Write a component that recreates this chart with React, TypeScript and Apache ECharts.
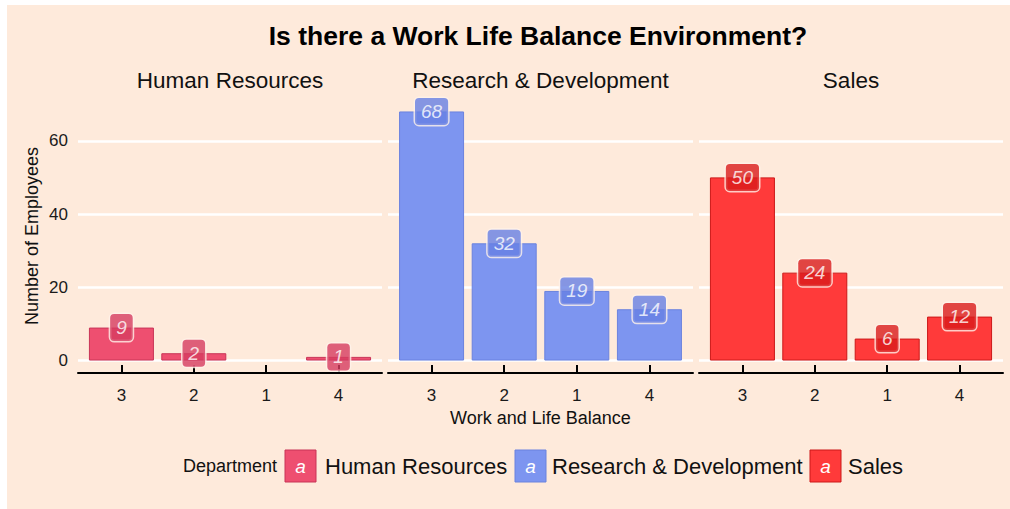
import React, { useEffect, useRef } from "react";
import * as echarts from "echarts";

const chartTitle = "Is there a Work Life Balance Environment?";
const departments = ["Human Resources", "Research & Development", "Sales"];
const balanceLevels = ["3", "2", "1", "4"];
const hrCounts: (number | null)[] = [9, 2, null, 1];
const rdCounts: (number | null)[] = [68, 32, 19, 14];
const salesCounts: (number | null)[] = [50, 24, 6, 12];
const yTicks = [0, 20, 40, 60];
const xAxisTitle = "Work and Life Balance";
const yAxisTitle = "Number of Employees";
const legendTitle = "Department";

const barColors = ["#EE4F70", "#7D95F0", "#FF3A3A"];
const barBorders = ["#C83457", "#6A82DE", "#CC1818"];
const labelColors = ["#D63C60", "#6780E4", "#D91C1C"];

const FONT = "Liberation Sans, Arial, Helvetica, sans-serif";

export default function App() {
  const ref = useRef<HTMLDivElement>(null);

  useEffect(() => {
    if (!ref.current) return;
    const chart = echarts.init(ref.current, undefined, { renderer: "svg" });
    const allCounts = [hrCounts, rdCounts, salesCounts];

    const grids = [
      { left: 78, top: 99, width: 304, height: 274 },
      { left: 388, top: 99, width: 305, height: 274 },
      { left: 699, top: 99, width: 304, height: 274 },
    ];
    const panelCenters = grids.map((g) => g.left + g.width / 2);
    const tickPos = balanceLevels.map((_, i) => i + 1);

    const xAxes = grids.map((_, gi) => ({
      type: "value",
      gridIndex: gi,
      min: 0.4,
      max: balanceLevels.length + 0.6,
      splitLine: { show: false },
      axisLine: { show: true, onZero: false, lineStyle: { color: "#000", width: 2 } },
      axisTick: {
        show: true,
        inside: true,
        length: 8,
        customValues: tickPos,
        lineStyle: { color: "#000", width: 2 },
      },
      axisLabel: {
        customValues: tickPos,
        formatter: (v: number) => balanceLevels[Math.round(v) - 1] ?? "",
        fontSize: 17,
        color: "#1a1a1a",
        margin: 14,
        fontFamily: FONT,
      },
      name: gi === 1 ? xAxisTitle : "",
      nameLocation: "middle",
      nameGap: 22,
      nameTextStyle: { fontSize: 18, color: "#111", fontFamily: FONT },
    }));

    const yAxes = grids.map((_, gi) => ({
      type: "value",
      gridIndex: gi,
      min: -3.4,
      max: 71.4,
      splitLine: { show: false },
      axisLine: { show: false },
      axisTick: { show: false },
      axisLabel: {
        show: gi === 0,
        customValues: yTicks,
        fontSize: 17,
        color: "#1a1a1a",
        margin: 10,
        fontFamily: FONT,
      },
      name: gi === 0 ? yAxisTitle : "",
      nameLocation: "middle",
      nameGap: 37,
      nameTextStyle: { fontSize: 18, color: "#111", fontFamily: FONT },
    }));

    const series: any[] = [];
    allCounts.forEach((counts, gi) => {
      const data = counts
        .map((v, i) => [i + 1, v])
        .filter((d) => d[1] !== null && d[1] !== undefined);
      series.push({
        type: "bar",
        name: departments[gi],
        xAxisIndex: gi,
        yAxisIndex: gi,
        barWidth: 65,
        z: 2,
        itemStyle: { color: barColors[gi], borderColor: barBorders[gi], borderWidth: 1 },
        data,
        markLine: {
          silent: true,
          symbol: "none",
          z: 1,
          label: { show: false },
          lineStyle: { color: "#ffffff", width: 2.5, type: "solid" },
          emphasis: { disabled: true },
          data: yTicks.map((v) => ({ yAxis: v })),
        },
      });
      series.push({
        type: "scatter",
        name: departments[gi] + " labels",
        xAxisIndex: gi,
        yAxisIndex: gi,
        symbolSize: 1,
        z: 4,
        itemStyle: { color: "transparent" },
        data,
        label: {
          show: true,
          position: "inside",
          formatter: (p: any) => String(p.value[1]),
          color: "#ffffff",
          fontStyle: "italic",
          fontSize: 19,
          lineHeight: 20,
          fontFamily: FONT,
          backgroundColor: labelColors[gi],
          borderColor: "#FFF2EA",
          borderWidth: 1.5,
          borderRadius: 4,
          padding: [4, 6, 3, 6],
        },
      });
    });

    const legendY = 466;
    const legendItems = [
      { box: 285, text: 325 },
      { box: 515, text: 552 },
      { box: 810, text: 848 },
    ];
    const legendGraphics: any[] = [
      {
        type: "text",
        x: 183,
        y: legendY,
        style: {
          text: legendTitle,
          fontSize: 18,
          fontFamily: FONT,
          fill: "#111",
          verticalAlign: "middle",
        },
      },
    ];
    legendItems.forEach((it, i) => {
      legendGraphics.push({
        type: "rect",
        shape: { x: it.box, y: legendY - 16, width: 31, height: 32 },
        style: { fill: barColors[i], stroke: barBorders[i], lineWidth: 1 },
      });
      legendGraphics.push({
        type: "text",
        x: it.box + 15.5,
        y: legendY,
        style: {
          text: "a",
          fontSize: 19,
          fontStyle: "italic",
          fontFamily: FONT,
          fill: "#fff",
          align: "center",
          verticalAlign: "middle",
        },
      });
      legendGraphics.push({
        type: "text",
        x: it.text,
        y: legendY,
        style: {
          text: departments[i],
          fontSize: 22,
          fontFamily: FONT,
          fill: "#111",
          verticalAlign: "middle",
        },
      });
    });

    const option: any = {
      animation: false,
      backgroundColor: "#ffffff",
      textStyle: { fontFamily: FONT },
      title: [
        {
          text: chartTitle,
          left: 538,
          top: 22,
          padding: 0,
          textAlign: "center",
          textStyle: { fontSize: 26.5, fontWeight: "bold", color: "#000", fontFamily: FONT },
        },
        ...departments.map((d, i) => ({
          text: d,
          left: panelCenters[i],
          top: 69,
          padding: 0,
          textAlign: "center",
          textStyle: { fontSize: 22.5, fontWeight: "normal", color: "#111", fontFamily: FONT },
        })),
      ],
      grid: grids.map((g) => ({ ...g, containLabel: false })),
      xAxis: xAxes,
      yAxis: yAxes,
      series,
      graphic: [
        {
          type: "rect",
          z: -10,
          silent: true,
          shape: { x: 7, y: 5, width: 1003, height: 504 },
          style: { fill: "#FEEADB" },
        },
        ...legendGraphics,
      ],
    };

    chart.setOption(option);
    return () => chart.dispose();
  }, []);

  return (
    <div
      ref={ref}
      style={{ position: "fixed", left: 0, top: 0, width: 1010, height: 509 }}
    />
  );
}
